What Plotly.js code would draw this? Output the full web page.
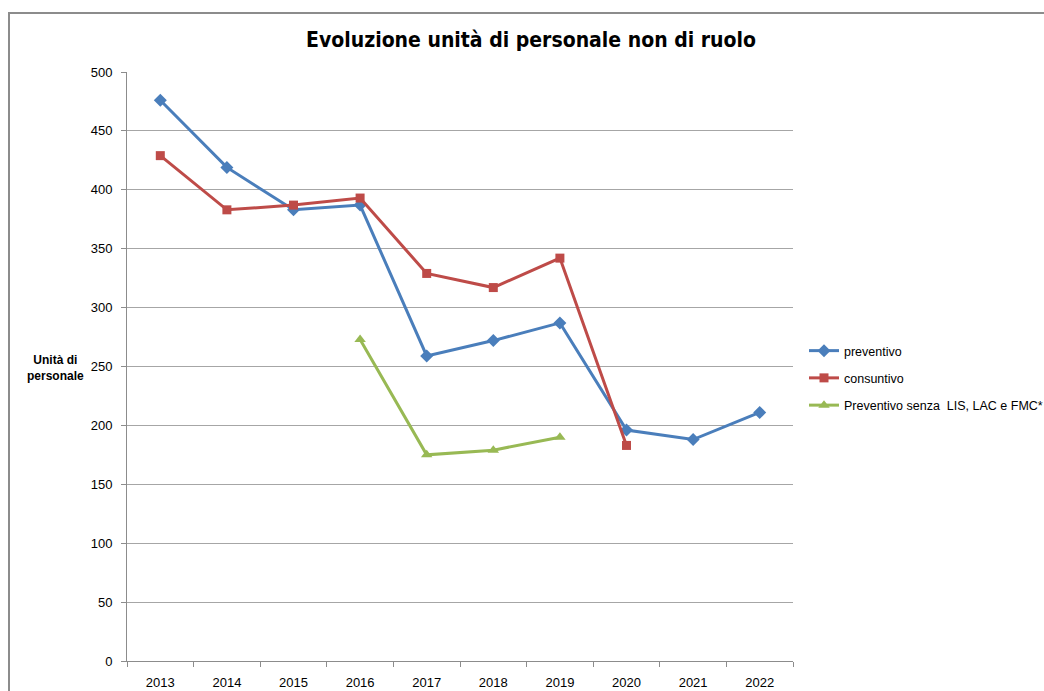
<!DOCTYPE html>
<html>
<head>
<meta charset="utf-8">
<script src="https://cdn.plot.ly/plotly-3.0.1.min.js"></script>
<style>
  html, body { margin: 0; padding: 0; background: #fff; }
  #wrap { position: relative; width: 1044px; height: 691px; overflow: hidden; }
  #chart { position: absolute; left: 0; top: 0; width: 1044px; height: 691px; }
  #frame { position: absolute; left: 8px; top: 12px; width: 1100px; height: 800px;
           border-top: 2px solid #8c8c8c; border-left: 2px solid #8c8c8c; pointer-events: none; }
</style>
</head>
<body>
<div id="wrap">
  <div id="chart"></div>
  <div id="frame"></div>
</div>
<script>
const years = ["2013","2014","2015","2016","2017","2018","2019","2020","2021","2022"];
const preventivo = [476, 419, 383, 387, 259, 272, 287, 196, 188, 211];
const consuntivo = [429, 383, 387, 393, 329, 317, 342, 183, null, null];
const preventivoSenza = [null, null, null, 273, 175, 179, 190, null, null, null];

const seriesNames = ["preventivo", "consuntivo", "Preventivo senza  LIS, LAC e FMC*"];
const titleText = "Evoluzione unità di personale non di ruolo";
const yTitleText = "Unità di<br>personale";

const baseFont = "Liberation Sans, Arial, sans-serif";

const traces = [
  { x: years, y: preventivo, name: seriesNames[0], type: "scatter", mode: "lines+markers",
    line: { color: "#4A7EBB", width: 3 }, marker: { symbol: "diamond", size: 10, color: "#4A7EBB" },
    legendgroup: "a", connectgaps: false },
  { x: years, y: consuntivo, name: seriesNames[1], type: "scatter", mode: "lines+markers",
    line: { color: "#BE4B48", width: 3 }, marker: { symbol: "square", size: 9, color: "#BE4B48" },
    legendgroup: "b", connectgaps: false },
  { x: years, y: preventivoSenza, name: seriesNames[2], type: "scatter", mode: "lines+markers",
    line: { color: "#98B954", width: 3 }, marker: { symbol: "triangle-up", size: 10, color: "#98B954" },
    legendgroup: "c", connectgaps: false }
];

const layout = {
  width: 1044, height: 691,
  margin: { l: 127, r: 251, t: 72, b: 30, autoexpand: false },
  paper_bgcolor: "#ffffff", plot_bgcolor: "#ffffff",
  font: { family: baseFont, size: 12, color: "#000" },
  title: { text: "<b>" + titleText + "</b>", x: 531/1044, xref: "container", xanchor: "center",
           y: 1 - 40/691, yref: "container", yanchor: "middle",
           font: { family: "Liberation Sans Narrow, DejaVu Sans Condensed, Liberation Sans, sans-serif", size: 21, color: "#000" } },
  xaxis: { type: "category", tickson: "boundaries", ticks: "outside", ticklen: 5, tickcolor: "#8c8c8c",
           showline: true, linecolor: "#8c8c8c", linewidth: 1, showgrid: false, zeroline: false,
           ticklabelstandoff: 9,
           tickfont: { family: baseFont, size: 13, color: "#000" }, range: [-0.5, 9.5] },
  yaxis: { range: [0, 500], dtick: 50, ticks: "outside", ticklen: 5, tickcolor: "#8c8c8c",
           showline: true, linecolor: "#8c8c8c", linewidth: 1, showgrid: true, gridcolor: "#a6a6a6",
           ticklabelstandoff: 6,
           gridwidth: 1, zeroline: false, tickfont: { family: baseFont, size: 13, color: "#000" } },
  showlegend: true,
  legend: { x: (804-127)/666, xanchor: "left", y: (661-336)/589, yanchor: "top",
            traceorder: "grouped", tracegroupgap: 8, font: { family: baseFont, size: 12.5, color: "#000" },
            bgcolor: "rgba(0,0,0,0)" },
  annotations: [
    { text: "<b>" + yTitleText + "</b>", xref: "paper", yref: "paper", x: (55-127)/666, y: (661-368)/589,
      xanchor: "center", yanchor: "middle", showarrow: false, align: "center",
      font: { family: baseFont, size: 12, color: "#000" } }
  ]
};

Plotly.newPlot("chart", traces, layout, { displayModeBar: false, staticPlot: true });
</script>
</body>
</html>
